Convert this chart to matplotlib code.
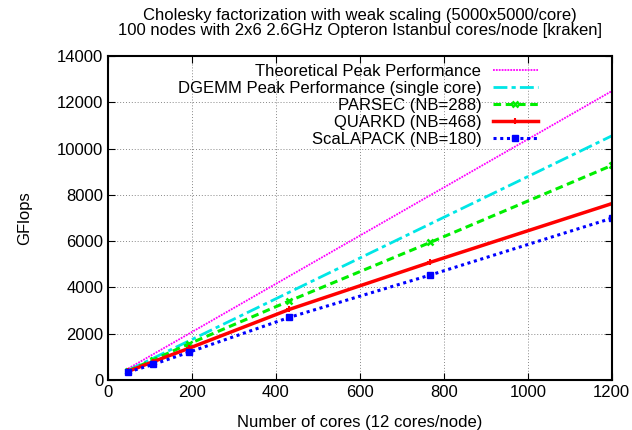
import matplotlib
matplotlib.use("Agg")
import matplotlib.pyplot as plt

plt.rcParams['font.family'] = ['Liberation Sans', 'DejaVu Sans']

cores = [48, 108, 192, 432, 768, 1200]
theoretical = [499, 1123, 1997, 4493, 7987, 12480]
dgemm = [422, 949, 1687, 3797, 6750, 10547]
parsec = [400, 880, 1560, 3420, 5950, 9270]
quarkd = [380, 800, 1370, 3055, 5090, 7620]
scalapack = [350, 680, 1200, 2710, 4540, 6990]

fig = plt.figure(figsize=(6.32, 4.30), dpi=100)
ax = fig.add_axes([0.171, 0.116, 0.797, 0.754])

ax.plot(cores, theoretical, color="#ff00ff", linestyle=(0, (1, 0.6)), lw=1.3,
        label="Theoretical Peak Performance")
ax.plot(cores, dgemm, color="#00e6e6", linestyle=(0, (5, 1.5, 1.5, 1.5)), lw=2,
        label="DGEMM Peak Performance (single core)")
ax.plot(cores, parsec, color="#00ee00", linestyle=(0, (2.5, 1.5)), lw=2.2,
        marker="x", markersize=4.5, markeredgewidth=1.8, label="PARSEC (NB=288)")
ax.plot(cores, quarkd, color="#ff0000", linestyle="-", lw=2.5,
        marker="+", markersize=4.5, markeredgewidth=1.5, label="QUARKD (NB=468)")
ax.plot(cores, scalapack, color="#0000ff", linestyle=(0, (1, 1.2)), lw=2.2,
        marker="s", markersize=4.5, label="ScaLAPACK (NB=180)")

ax.set_xlim(0, 1200)
ax.set_ylim(0, 14000)
ax.set_xticks(range(0, 1201, 200))
ax.set_yticks(range(0, 14001, 2000))
ax.grid(True, color="#888888", linestyle=(0, (1, 2)), lw=0.7)
ax.tick_params(direction="in", top=True, right=True, length=5, labelsize=12)
for s in ax.spines.values():
    s.set_linewidth(1.5)

ax.set_xlabel("Number of cores (12 cores/node)", fontsize=12, labelpad=11)
ax.set_ylabel("GFlops", fontsize=12, labelpad=18)
ax.set_title("Cholesky factorization with weak scaling (5000x5000/core)\n"
             "100 nodes with 2x6 2.6GHz Opteron Istanbul cores/node [kraken]",
             fontsize=12, linespacing=0.98, pad=15)

leg = ax.legend(loc="upper right", bbox_to_anchor=(0.87, 1.0), frameon=False,
                markerfirst=False, fontsize=12, borderpad=0.0, labelspacing=0.12,
                handlelength=2.7, handletextpad=0.7)

fig.savefig("out.png", dpi=100)
